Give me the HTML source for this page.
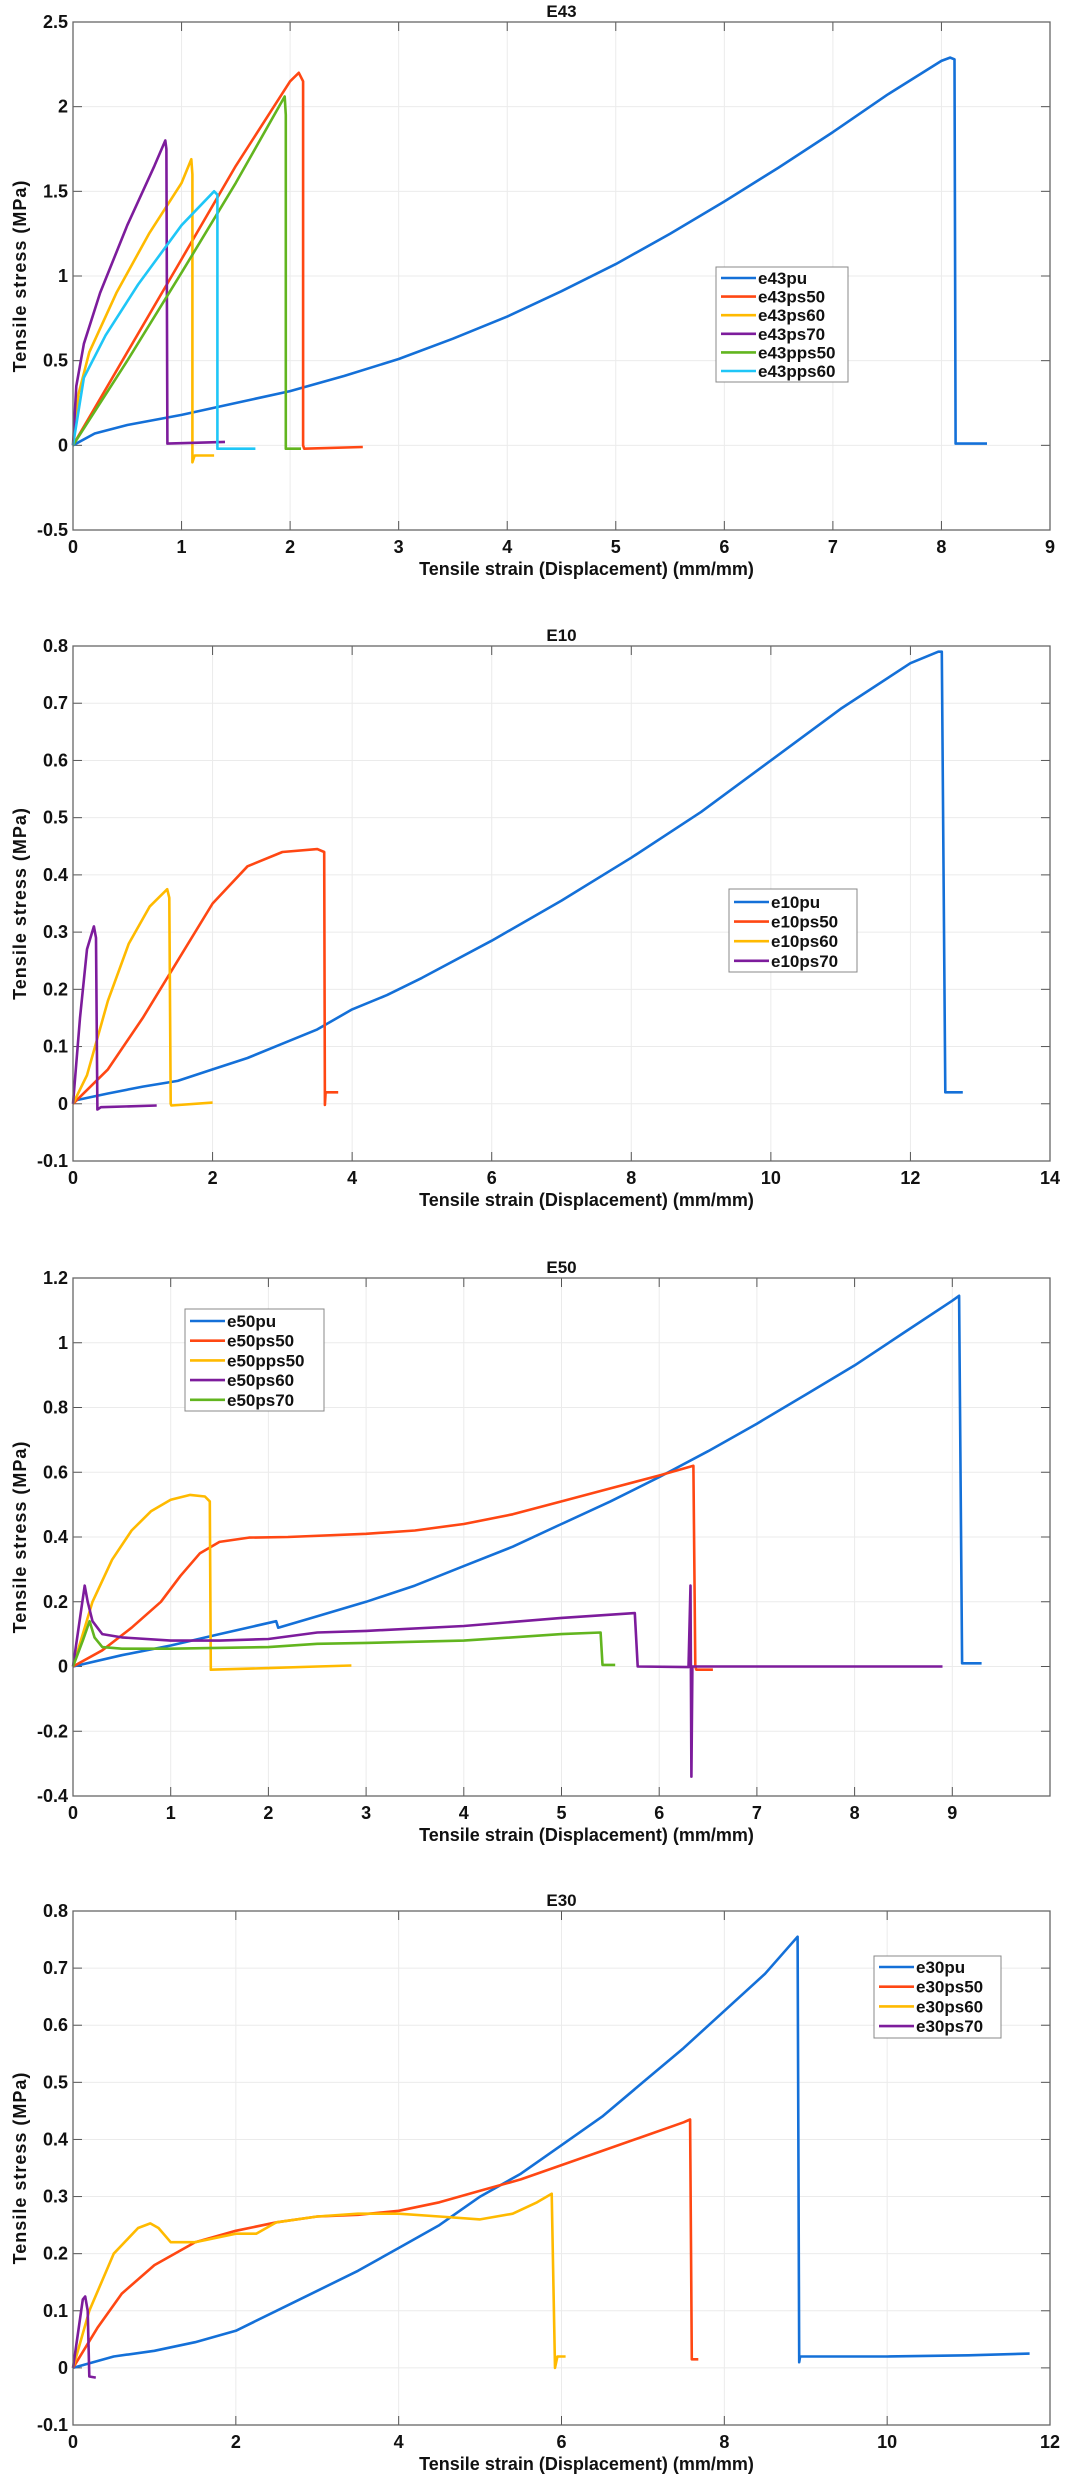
<!DOCTYPE html>
<html><head><meta charset="utf-8">
<style>
html,body{margin:0;padding:0;background:#fff;}
svg{display:block;font-family:"Liberation Sans",sans-serif;}
</style></head>
<body>
<svg id="root" width="1066" height="2480" viewBox="0 0 1066 2480"></svg>
<script>
// ---- E43 data ----
const e43pu_x=[0,0.2,0.5,1,1.5,2,2.5,3,3.5,4,4.5,5,5.5,6,6.5,7,7.5,8,8.08,8.12,8.13,8.42];
const e43pu_y=[0,0.07,0.12,0.18,0.25,0.32,0.41,0.51,0.63,0.76,0.91,1.07,1.25,1.44,1.64,1.85,2.07,2.27,2.29,2.28,0.01,0.01];
const e43ps50_x=[0,0.5,1,1.5,2,2.08,2.12,2.12,2.13,2.67];
const e43ps50_y=[0,0.55,1.1,1.65,2.15,2.2,2.15,0,-0.02,-0.01];
const e43ps60_x=[0,0.05,0.15,0.4,0.7,1.0,1.09,1.1,1.1,1.12,1.3];
const e43ps60_y=[0,0.3,0.55,0.9,1.25,1.55,1.69,1.6,-0.1,-0.06,-0.06];
const e43ps70_x=[0,0.03,0.1,0.25,0.5,0.75,0.85,0.86,0.87,1.4];
const e43ps70_y=[0,0.35,0.6,0.9,1.3,1.65,1.8,1.75,0.01,0.02];
const e43pps50_x=[0,0.5,1,1.5,1.95,1.96,1.96,2.1];
const e43pps50_y=[0,0.5,1.02,1.55,2.06,1.95,-0.02,-0.02];
const e43pps60_x=[0,0.1,0.3,0.6,1.0,1.3,1.33,1.33,1.68];
const e43pps60_y=[0,0.4,0.65,0.95,1.3,1.5,1.48,-0.02,-0.02];
const e43_xticks=[0,1,2,3,4,5,6,7,8,9];
const e43_yticks=[-0.5,0,0.5,1,1.5,2,2.5];
// ---- E10 data ----
const e10pu_x=[0,0.5,1,1.5,2,2.5,3,3.5,4,4.5,5,6,7,8,9,10,11,12,12.4,12.45,12.5,12.75];
const e10pu_y=[0.005,0.018,0.03,0.04,0.06,0.08,0.105,0.13,0.165,0.19,0.22,0.285,0.355,0.43,0.51,0.6,0.69,0.77,0.79,0.79,0.02,0.02];
const e10ps50_x=[0,0.5,1,1.5,2,2.5,3,3.5,3.6,3.61,3.62,3.8];
const e10ps50_y=[0,0.06,0.15,0.25,0.35,0.415,0.44,0.445,0.44,-0.002,0.02,0.02];
const e10ps60_x=[0,0.2,0.5,0.8,1.1,1.35,1.38,1.4,1.41,2.0];
const e10ps60_y=[0,0.05,0.18,0.28,0.345,0.375,0.36,0,-0.003,0.002];
const e10ps70_x=[0,0.1,0.2,0.3,0.33,0.35,0.4,1.2];
const e10ps70_y=[0,0.15,0.27,0.31,0.29,-0.01,-0.006,-0.003];
const e10_xticks=[0,2,4,6,8,10,12,14];
const e10_yticks=[-0.1,0,0.1,0.2,0.3,0.4,0.5,0.6,0.7,0.8];
// ---- E50 data ----
const e50pu_x=[0,0.5,1,1.5,2.08,2.1,2.5,3,3.5,4,4.5,5,5.5,6,6.5,7,7.5,8,8.5,9,9.07,9.1,9.3];
const e50pu_y=[0,0.035,0.065,0.1,0.14,0.12,0.155,0.2,0.25,0.31,0.37,0.44,0.51,0.585,0.665,0.75,0.84,0.93,1.03,1.13,1.145,0.01,0.01];
const e50ps50_x=[0,0.3,0.6,0.9,1.1,1.3,1.5,1.8,2.2,3,3.5,4,4.5,5,5.5,6,6.35,6.37,6.38,6.55];
const e50ps50_y=[0,0.05,0.12,0.2,0.28,0.35,0.385,0.398,0.4,0.41,0.42,0.44,0.47,0.51,0.55,0.59,0.62,0,-0.01,-0.01];
const e50pps50_x=[0,0.1,0.2,0.4,0.6,0.8,1.0,1.2,1.35,1.4,1.41,2,2.5,2.85];
const e50pps50_y=[0,0.1,0.2,0.33,0.42,0.48,0.515,0.53,0.525,0.51,-0.01,-0.005,0,0.003];
const e50ps60_x=[0,0.12,0.15,0.2,0.3,0.5,1,1.5,2,2.5,3,4,5,5.75,5.78,6.3,6.32,6.33,6.34,7,8,8.9];
const e50ps60_y=[0,0.25,0.2,0.14,0.1,0.09,0.08,0.08,0.085,0.105,0.11,0.125,0.15,0.165,0,-0.002,0.25,-0.34,0,0,0,0];
const e50ps70_x=[0,0.1,0.17,0.22,0.3,0.5,1,2,2.5,3,4,5,5.4,5.42,5.55];
const e50ps70_y=[0,0.08,0.14,0.09,0.06,0.055,0.055,0.06,0.07,0.073,0.08,0.1,0.105,0.005,0.005];
const e50_xticks=[0,1,2,3,4,5,6,7,8,9];
const e50_yticks=[-0.4,-0.2,0,0.2,0.4,0.6,0.8,1,1.2];
const e50_xmax=10;
// ---- E30 data ----
const e30pu_x=[0,0.5,1,1.5,2,2.5,3,3.5,4,4.5,5,5.5,6,6.5,7,7.5,8,8.5,8.9,8.92,8.93,10,11,11.75];
const e30pu_y=[0,0.02,0.03,0.045,0.065,0.1,0.135,0.17,0.21,0.25,0.3,0.34,0.39,0.44,0.5,0.56,0.625,0.69,0.755,0.01,0.02,0.02,0.022,0.025];
const e30ps50_x=[0,0.3,0.6,1,1.5,2,2.5,3,3.5,4,4.5,5,5.5,6,6.5,7,7.5,7.58,7.6,7.68];
const e30ps50_y=[0,0.07,0.13,0.18,0.22,0.24,0.255,0.265,0.268,0.275,0.29,0.31,0.33,0.355,0.38,0.405,0.43,0.435,0.015,0.015];
const e30ps60_x=[0,0.2,0.5,0.8,0.95,1.05,1.2,1.5,2,2.25,2.5,3,3.5,4,4.5,5,5.4,5.7,5.88,5.92,5.95,6.05];
const e30ps60_y=[0,0.1,0.2,0.245,0.253,0.245,0.22,0.22,0.235,0.235,0.255,0.265,0.27,0.27,0.265,0.26,0.27,0.29,0.305,0,0.02,0.02];
const e30ps70_x=[0,0.05,0.12,0.15,0.18,0.2,0.28];
const e30ps70_y=[0,0.05,0.12,0.125,0.1,-0.015,-0.017];
const e30_xticks=[0,2,4,6,8,10,12];
const e30_yticks=[-0.1,0,0.1,0.2,0.3,0.4,0.5,0.6,0.7,0.8];

const C={blue:'#1470d8',red:'#ff4713',yellow:'#ffba00',purple:'#7d1c9c',green:'#62b51f',cyan:'#1fc6f7'};
const NS='http://www.w3.org/2000/svg';
const root=document.getElementById('root');
function mk(tag,attrs,parent){const e=document.createElementNS(NS,tag);for(const k in attrs)e.setAttribute(k,attrs[k]);(parent||root).appendChild(e);return e;}

function chart(cfg){
  const L=73,R=1050,T=cfg.top,B=cfg.bottom;
  const g=mk('g',{});
  
  
  const xmin=cfg.xt[0],xmax=(cfg.xmax!==undefined?cfg.xmax:cfg.xt[cfg.xt.length-1]),ymin=cfg.yt[0],ymax=cfg.yt[cfg.yt.length-1];
  const sx=v=>L+(v-xmin)/(xmax-xmin)*(R-L);
  const sy=v=>B-(v-ymin)/(ymax-ymin)*(B-T);
  mk('rect',{x:L,y:T,width:R-L,height:B-T,fill:'#fff'},g);
  cfg.xt.forEach(v=>{
    const x=sx(v);
    const gl=mk('line',{x1:x,x2:x,y1:T,y2:B,stroke:'#ebebeb','stroke-width':1},g);
    
    
    mk('line',{x1:x,x2:x,y1:B,y2:B-9,stroke:'#555','stroke-width':1},g);
    mk('line',{x1:x,x2:x,y1:T,y2:T+9,stroke:'#555','stroke-width':1},g);
    const t=mk('text',{x:x,y:B+23,'text-anchor':'middle','font-size':18,'font-weight':'bold',fill:'#111'},g);
    t.textContent=String(v);
    
    
  });
  cfg.yt.forEach(v=>{
    const y=sy(v);
    const gl=mk('line',{x1:L,x2:R,y1:y,y2:y,stroke:'#ebebeb','stroke-width':1},g);
    
    
    mk('line',{x1:L,x2:L+9,y1:y,y2:y,stroke:'#555','stroke-width':1},g);
    mk('line',{x1:R,x2:R-9,y1:y,y2:y,stroke:'#555','stroke-width':1},g);
    const t=mk('text',{x:L-5,y:y+6,'text-anchor':'end','font-size':18,'font-weight':'bold',fill:'#111'},g);
    t.textContent=String(v);
    
    
  });
  cfg.series.forEach(s=>{
    const pts=s.x.map((v,i)=>sx(v).toFixed(1)+','+sy(s.y[i]).toFixed(1)).join(' ');
    const p=mk('polyline',{points:pts,fill:'none',stroke:s.c,'stroke-width':2.6,'stroke-linejoin':'round'},g);
    
    
  });
  const box=mk('rect',{x:L,y:T,width:R-L,height:B-T,fill:'none',stroke:'#666','stroke-width':1.3},g);
  
  
  const ti=mk('text',{x:(L+R)/2,y:T-5,'text-anchor':'middle','font-size':17,'font-weight':'bold',fill:'#111'},g);
  ti.textContent=cfg.title;
  
  
  const xl=mk('text',{x:(L+R)/2+25,y:B+45,'text-anchor':'middle','font-size':18,'font-weight':'bold',fill:'#111'},g);
  xl.textContent='Tensile strain (Displacement) (mm/mm)';
  
  
  const yc=(T+B)/2;
  const yl=mk('text',{x:20,y:yc,'text-anchor':'middle','font-size':18,'font-weight':'bold',fill:'#111',transform:'rotate(-90 20 '+yc+')','letter-spacing':'1'},g);
  yl.setAttribute('dy','6');
  yl.textContent='Tensile stress (MPa)';
  
  
  const lg=cfg.legend;
  const lgg=mk('g',{},g);
  
  
  mk('rect',{x:lg.x,y:lg.y,width:lg.w,height:lg.h,fill:'#fff',stroke:'#888','stroke-width':1},lgg);
  cfg.series.forEach((s,i)=>{
    const y=lg.y+lg.first+i*lg.step;
    const e=mk('g',{},lgg);
    
    
    mk('line',{x1:lg.x+5,x2:lg.x+40,y1:y,y2:y,stroke:s.c,'stroke-width':2.6},e);
    const t=mk('text',{x:lg.x+42,y:y+6,'font-size':17,'font-weight':'bold',fill:'#111'},e);
    t.textContent=s.n;
  });
}

chart({id:'e43',title:'E43',top:22,bottom:530,xt:e43_xticks,yt:e43_yticks,
  legend:{x:716,y:267,w:132,h:115,first:11,step:18.6},
  series:[{n:'e43pu',x:e43pu_x,y:e43pu_y,c:C.blue},{n:'e43ps50',x:e43ps50_x,y:e43ps50_y,c:C.red},
  {n:'e43ps60',x:e43ps60_x,y:e43ps60_y,c:C.yellow},{n:'e43ps70',x:e43ps70_x,y:e43ps70_y,c:C.purple},
  {n:'e43pps50',x:e43pps50_x,y:e43pps50_y,c:C.green},{n:'e43pps60',x:e43pps60_x,y:e43pps60_y,c:C.cyan}]});
chart({id:'e10',title:'E10',top:646,bottom:1161,xt:e10_xticks,yt:e10_yticks,
  legend:{x:729,y:889,w:128,h:83,first:13,step:19.6},
  series:[{n:'e10pu',x:e10pu_x,y:e10pu_y,c:C.blue},{n:'e10ps50',x:e10ps50_x,y:e10ps50_y,c:C.red},
  {n:'e10ps60',x:e10ps60_x,y:e10ps60_y,c:C.yellow},{n:'e10ps70',x:e10ps70_x,y:e10ps70_y,c:C.purple}]});
chart({id:'e50',title:'E50',top:1278,bottom:1796,xt:e50_xticks,xmax:e50_xmax,yt:e50_yticks,
  legend:{x:185,y:1309,w:139,h:102,first:12,step:19.7},
  series:[{n:'e50pu',x:e50pu_x,y:e50pu_y,c:C.blue},{n:'e50ps50',x:e50ps50_x,y:e50ps50_y,c:C.red},
  {n:'e50pps50',x:e50pps50_x,y:e50pps50_y,c:C.yellow},{n:'e50ps60',x:e50ps60_x,y:e50ps60_y,c:C.purple},
  {n:'e50ps70',x:e50ps70_x,y:e50ps70_y,c:C.green}]});
chart({id:'e30',title:'E30',top:1911,bottom:2425,xt:e30_xticks,yt:e30_yticks,
  legend:{x:874,y:1956,w:127,h:82,first:11,step:19.7},
  series:[{n:'e30pu',x:e30pu_x,y:e30pu_y,c:C.blue},{n:'e30ps50',x:e30ps50_x,y:e30ps50_y,c:C.red},
  {n:'e30ps60',x:e30ps60_x,y:e30ps60_y,c:C.yellow},{n:'e30ps70',x:e30ps70_x,y:e30ps70_y,c:C.purple}]});
</script>
</body></html>
